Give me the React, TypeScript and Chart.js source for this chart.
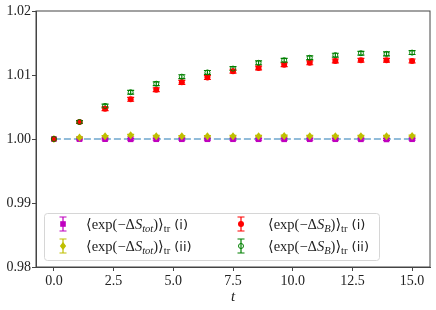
import React, { useEffect, useRef } from 'react';
import { Chart, registerables } from 'chart.js';
Chart.register(...registerables);

const tValues = [0, 1.0714, 2.1429, 3.2143, 4.2857, 5.3571, 6.4286, 7.5, 8.5714, 9.6429, 10.7143, 11.7857, 12.8571, 13.9286, 15];
const totI = [1.0, 0.99998, 0.99997, 0.99995, 0.99996, 0.99996, 0.99996, 0.99996, 0.99996, 0.99995, 0.99996, 0.99996, 0.99995, 0.99993, 0.99996];
const totIErr = [0, 0.00012, 0.00012, 0.00014, 0.00013, 0.00013, 0.00013, 0.00013, 0.00013, 0.00014, 0.00013, 0.00013, 0.00014, 0.00015, 0.00013];
const totII = [1.0, 1.00022, 1.00042, 1.00058, 1.00044, 1.00042, 1.00042, 1.00044, 1.00044, 1.00048, 1.00044, 1.00044, 1.00044, 1.00044, 1.00048];
const totIIErr = [0, 0.00012, 0.00013, 0.00015, 0.00013, 0.00013, 0.00013, 0.00013, 0.00013, 0.00014, 0.00013, 0.00013, 0.00013, 0.00013, 0.00014];
const sbI = [1.0, 1.00266, 1.00473, 1.0062, 1.0077, 1.00885, 1.0096, 1.0106, 1.0111, 1.0116, 1.0119, 1.0122, 1.0123, 1.0123, 1.0122];
const sbIErr = [0, 0.0002, 0.0003, 0.0003, 0.0003, 0.0003, 0.0003, 0.0003, 0.0003, 0.0003, 0.0003, 0.0003, 0.0003, 0.0003, 0.0003];
const sbII = [1.0, 1.00266, 1.00516, 1.0073, 1.00864, 1.00974, 1.0104, 1.011, 1.0119, 1.0123, 1.0127, 1.0131, 1.0134, 1.0133, 1.0135];
const sbIIErr = [0, 0.0002, 0.0003, 0.0003, 0.0003, 0.0003, 0.0003, 0.0003, 0.0003, 0.0003, 0.0003, 0.0003, 0.0003, 0.0003, 0.0003];
const refLineX = [0, 15];
const refLineY = [1.0, 1.0];
const xTicks = [0, 2.5, 5, 7.5, 10, 12.5, 15];
const yTicks = [0.98, 0.99, 1.0, 1.01, 1.02];
const seriesSubs = ['tot', 'tot', 'B', 'B'];
const seriesTags = ['(i)', '(ii)', '(i)', '(ii)'];

const MAGENTA = '#bf00bf';
const YELLOW = '#bfbf00';
const RED = '#ff0000';
const GREEN = '#008000';
const SERIF = '"Liberation Serif", "DejaVu Serif", serif';

const pts = (ys: number[]) => ys.map((y, i) => ({ x: tValues[i], y }));

export default function App() {
  const ref = useRef<HTMLCanvasElement | null>(null);
  useEffect(() => {
    const canvas = ref.current!;
    const errs = [totIErr, totIIErr, sbIErr, sbIIErr];
    const colors = [MAGENTA, YELLOW, RED, GREEN];

    const drawMarker = (ctx: CanvasRenderingContext2D, kind: number, x: number, y: number) => {
      ctx.save();
      ctx.fillStyle = colors[kind];
      ctx.strokeStyle = colors[kind];
      if (kind === 0) {
        ctx.fillRect(x - 2.8, y - 2.8, 5.6, 5.6);
      } else if (kind === 1) {
        ctx.beginPath();
        ctx.moveTo(x, y - 4);
        ctx.lineTo(x + 3.2, y);
        ctx.lineTo(x, y + 4);
        ctx.lineTo(x - 3.2, y);
        ctx.closePath();
        ctx.fill();
      } else if (kind === 2) {
        ctx.beginPath();
        ctx.arc(x, y, 3, 0, Math.PI * 2);
        ctx.fill();
      } else {
        ctx.lineWidth = 1;
        ctx.beginPath();
        ctx.arc(x, y, 2.5, 0, Math.PI * 2);
        ctx.stroke();
      }
      ctx.restore();
    };

    const drawBar = (ctx: CanvasRenderingContext2D, color: string, x: number, y1: number, y2: number) => {
      ctx.save();
      ctx.strokeStyle = color;
      ctx.lineWidth = 1.2;
      ctx.beginPath();
      ctx.moveTo(x, y1);
      ctx.lineTo(x, y2);
      ctx.moveTo(x - 3.5, y1);
      ctx.lineTo(x + 3.5, y1);
      ctx.moveTo(x - 3.5, y2);
      ctx.lineTo(x + 3.5, y2);
      ctx.stroke();
      ctx.restore();
    };

    const drawLabel = (ctx: CanvasRenderingContext2D, x: number, y: number, sub: string, tag: string) => {
      const segs = [
        { t: '\u27E8exp(\u2212\u0394', f: `14.5px ${SERIF}`, dy: 0 },
        { t: 'S', f: `italic 14.5px ${SERIF}`, dy: 0 },
        { t: sub, f: `italic 10.5px ${SERIF}`, dy: 3 },
        { t: ')\u27E9', f: `14.5px ${SERIF}`, dy: 0 },
        { t: 'tr', f: `10.5px ${SERIF}`, dy: 3 },
        { t: ' ' + tag, f: `13px "DejaVu Sans", sans-serif`, dy: 0 },
      ];
      let cx = x;
      ctx.save();
      ctx.fillStyle = '#222';
      ctx.textBaseline = 'alphabetic';
      for (const s of segs) {
        ctx.font = s.f;
        ctx.fillText(s.t, cx, y + 4.5 + s.dy);
        cx += ctx.measureText(s.t).width;
      }
      ctx.restore();
    };

    const plugin = {
      id: 'custom',
      beforeDatasetsDraw(chart: any) {
        const ctx = chart.ctx;
        const xs = chart.scales.x;
        const ys = chart.scales.y;
        ctx.save();
        ctx.beginPath();
        ctx.rect(chart.chartArea.left, chart.chartArea.top, chart.chartArea.right - chart.chartArea.left, chart.chartArea.bottom - chart.chartArea.top);
        ctx.clip();
        for (let d = 0; d < 4; d++) {
          const data = chart.data.datasets[d + 1].data as any[];
          data.forEach((p: any, i: number) => {
            const e = errs[d][i];
            if (!e) return;
            drawBar(ctx, colors[d], xs.getPixelForValue(p.x), ys.getPixelForValue(p.y - e), ys.getPixelForValue(p.y + e));
          });
        }
        ctx.restore();
      },
      afterDatasetsDraw(chart: any) {
        const ctx = chart.ctx;
        const xs = chart.scales.x;
        const ys = chart.scales.y;
        for (let d = 0; d < 4; d++) {
          const data = chart.data.datasets[d + 1].data as any[];
          data.forEach((p: any) => {
            drawMarker(ctx, d, xs.getPixelForValue(p.x), ys.getPixelForValue(p.y));
          });
        }
      },
      afterDraw(chart: any) {
        const ctx = chart.ctx;
        const a = chart.chartArea;
        ctx.save();
        ctx.strokeStyle = '#444';
        ctx.lineWidth = 1;
        ctx.strokeRect(a.left, a.top, a.right - a.left, a.bottom - a.top);
        // legend
        const lx = 44, ly = 213, lw = 335, lh = 47;
        ctx.beginPath();
        (ctx as any).roundRect(lx + 0.5, ly + 0.5, lw, lh, 3);
        ctx.fillStyle = 'rgba(255,255,255,0.8)';
        ctx.fill();
        ctx.strokeStyle = '#d6d6d6';
        ctx.stroke();
        const rowsY = [224, 246];
        const markX = [63, 241];
        const textX = [86, 268];
        for (let k = 0; k < 4; k++) {
          const col = Math.floor(k / 2);
          const row = k % 2;
          const mx = markX[col];
          const my = rowsY[row];
          drawBar(ctx, colors[k], mx, my - 7, my + 7);
          drawMarker(ctx, k, mx, my);
          drawLabel(ctx, textX[col], my, seriesSubs[k], seriesTags[k]);
        }
        ctx.restore();
      },
    };

    const chart = new Chart(canvas, {
      type: 'scatter',
      data: {
        datasets: [
          {
            data: refLineX.map((x, i) => ({ x, y: refLineY[i] })),
            showLine: true,
            borderColor: 'rgba(31,119,180,0.65)',
            borderWidth: 1.6,
            borderDash: [7, 3],
            pointRadius: 0,
          },
          { data: pts(totI), pointRadius: 0, showLine: false },
          { data: pts(totII), pointRadius: 0, showLine: false },
          { data: pts(sbI), pointRadius: 0, showLine: false },
          { data: pts(sbII), pointRadius: 0, showLine: false },
        ],
      },
      options: {
        animation: false,
        responsive: false,
        layout: { padding: { left: 0, top: 11, right: 6, bottom: 0 } },
        plugins: { legend: { display: false }, tooltip: { enabled: false } },
        scales: {
          x: {
            type: 'linear',
            min: -0.75,
            max: 15.75,
            afterBuildTicks: (s: any) => {
              s.ticks = xTicks.map((v) => ({ value: v }));
            },
            afterFit: (s: any) => {
              s.height = 43;
            },
            ticks: {
              callback: (v: any) => Number(v).toFixed(1),
              font: { family: SERIF, size: 14 },
              color: '#222',
              padding: 2,
              maxRotation: 0,
            },
            grid: { drawOnChartArea: false, drawTicks: true, tickLength: 4, tickColor: '#444' },
            border: { color: '#444' },
            title: {
              display: true,
              text: 't',
              font: { family: SERIF, size: 15, style: 'italic' },
              color: '#222',
              padding: { top: 0, bottom: 4 },
            },
          },
          y: {
            type: 'linear',
            min: 0.98,
            max: 1.02,
            afterBuildTicks: (s: any) => {
              s.ticks = yTicks.map((v) => ({ value: v }));
            },
            afterFit: (s: any) => {
              s.width = 36;
            },
            ticks: {
              callback: (v: any) => Number(v).toFixed(2),
              font: { family: SERIF, size: 14 },
              color: '#222',
              padding: 1,
            },
            grid: { drawOnChartArea: false, drawTicks: true, tickLength: 4, tickColor: '#444' },
            border: { color: '#444' },
          },
        },
      },
      plugins: [plugin],
    });
    return () => chart.destroy();
  }, []);

  return (
    <div style={{ position: 'fixed', left: 0, top: 0, width: 436, height: 310, background: '#fff' }}>
      <canvas ref={ref} width={436} height={310} style={{ width: 436, height: 310 }} />
    </div>
  );
}
